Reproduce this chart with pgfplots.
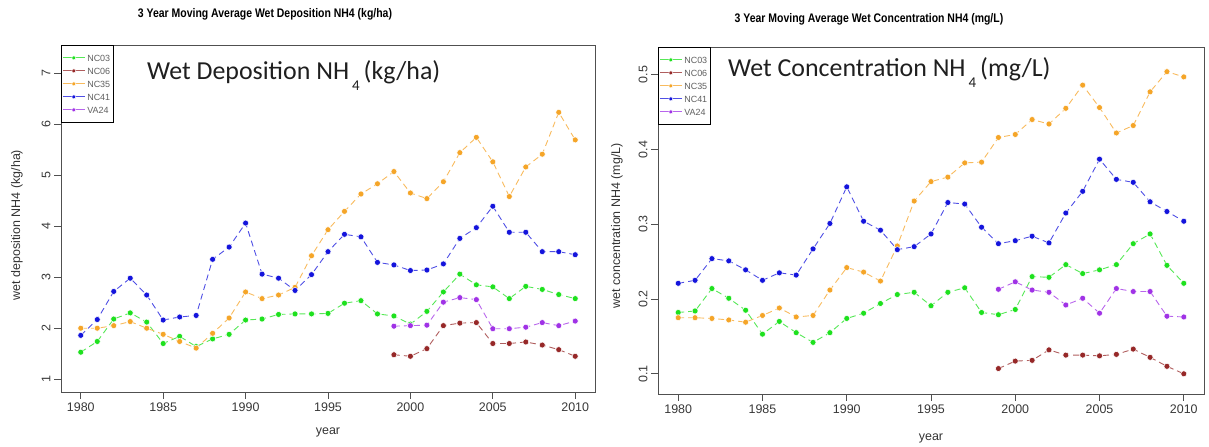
\documentclass[border=0pt]{standalone}
\usepackage{pgfplots}
\pgfplotsset{compat=1.18}
\usepackage{fontspec}
\setmainfont{Liberation Sans}
\newfontfamily\carlito{Carlito}
\definecolor{cGreen}{RGB}{30,225,30}
\definecolor{cBrown}{RGB}{150,40,40}
\definecolor{cOrange}{RGB}{245,165,40}
\definecolor{cBlue}{RGB}{20,20,220}
\definecolor{cPurple}{RGB}{160,50,230}
\definecolor{axgray}{RGB}{80,80,80}
\pgfplotsset{
  ser/.style={color=#1!75, line width=0.9bp, dash pattern=on 6bp off 4bp,
    mark=*, mark size=3bp, mark options={solid, fill=#1, draw=white, line width=0.5bp}},
  base/.style={
    scale only axis, height=347bp,
    xmin=1978.8, xmax=2011.2,
    xtick={1980,1985,1990,1995,2000,2005,2010},
    tick pos=left, tick align=outside, major tick length=7bp,
    axis line style={axgray, line width=0.9bp},
    tick style={axgray, line width=0.8bp},
    /pgf/number format/assume math mode=true,
    x tick label style={/pgf/number format/1000 sep={}},
    tick label style={font=\fontsize{12.5}{12.5}\selectfont, text=black!78},
    yticklabel style={rotate=90, anchor=south},
    legend cell align=left,
    legend image code/.code={\draw[mark repeat=2,mark phase=2,#1,solid] plot coordinates {(0bp,0bp) (11bp,0bp) (22bp,0bp)};},
    legend image post style={mark size=2bp},
    legend style={at={(0,1)}, anchor=north west, draw=black, line width=0.8bp, fill=white,
      inner xsep=1bp, inner ysep=6bp, row sep=0bp,
      font=\fontsize{9}{9}\selectfont\color{gray!75!black},
      nodes={text height=7bp, text depth=0bp, inner ysep=3bp, inner xsep=2bp}},
  }
}
\begin{document}
\begin{tikzpicture}[x=1bp,y=1bp]
\useasboundingbox (0,0) rectangle (1209,447);
% ---------------- left panel
\begin{axis}[base, at={(61bp,55bp)}, anchor=south west, width=534bp,
  ymin=0.75, ymax=7.55, ytick={1,2,3,4,5,6,7}]
\addplot[ser=cGreen] coordinates {(1980,1.53)(1981,1.74)(1982,2.18)(1983,2.30)(1984,2.12)(1985,1.70)(1986,1.84)(1987,1.64)(1988,1.79)(1989,1.88)(1990,2.16)(1991,2.18)(1992,2.27)(1993,2.28)(1994,2.28)(1995,2.29)(1996,2.49)(1997,2.54)(1998,2.28)(1999,2.24)(2000,2.08)(2001,2.33)(2002,2.71)(2003,3.06)(2004,2.85)(2005,2.81)(2006,2.58)(2007,2.82)(2008,2.76)(2009,2.66)(2010,2.58)};
\addlegendentry{NC03}
\addplot[ser=cBrown] coordinates {(1999,1.48)(2000,1.45)(2001,1.60)(2002,2.05)(2003,2.10)(2004,2.11)(2005,1.70)(2006,1.70)(2007,1.73)(2008,1.67)(2009,1.58)(2010,1.45)};
\addlegendentry{NC06}
\addplot[ser=cOrange] coordinates {(1980,2.00)(1981,2.00)(1982,2.05)(1983,2.13)(1984,2.00)(1985,1.88)(1986,1.74)(1987,1.61)(1988,1.90)(1989,2.20)(1990,2.71)(1991,2.58)(1992,2.65)(1993,2.80)(1994,3.42)(1995,3.93)(1996,4.29)(1997,4.63)(1998,4.83)(1999,5.07)(2000,4.65)(2001,4.54)(2002,4.87)(2003,5.44)(2004,5.74)(2005,5.26)(2006,4.58)(2007,5.16)(2008,5.41)(2009,6.23)(2010,5.69)};
\addlegendentry{NC35}
\addplot[ser=cBlue] coordinates {(1980,1.86)(1981,2.17)(1982,2.72)(1983,2.98)(1984,2.65)(1985,2.16)(1986,2.22)(1987,2.25)(1988,3.35)(1989,3.59)(1990,4.06)(1991,3.06)(1992,2.98)(1993,2.74)(1994,3.05)(1995,3.50)(1996,3.84)(1997,3.79)(1998,3.29)(1999,3.24)(2000,3.13)(2001,3.14)(2002,3.26)(2003,3.76)(2004,3.97)(2005,4.39)(2006,3.88)(2007,3.88)(2008,3.50)(2009,3.50)(2010,3.44)};
\addlegendentry{NC41}
\addplot[ser=cPurple] coordinates {(1999,2.04)(2000,2.05)(2001,2.06)(2002,2.51)(2003,2.60)(2004,2.56)(2005,1.99)(2006,1.99)(2007,2.02)(2008,2.11)(2009,2.05)(2010,2.14)};
\addlegendentry{VA24}
\end{axis}
% ---------------- right panel
\begin{axis}[base, at={(658bp,53bp)}, anchor=south west, width=546bp,
  ymin=0.073, ymax=0.537, ytick={0.1,0.2,0.3,0.4,0.5},
  yticklabel style={/pgf/number format/fixed, /pgf/number format/precision=1}]
\addplot[ser=cGreen] coordinates {(1980,0.182)(1981,0.184)(1982,0.214)(1983,0.201)(1984,0.185)(1985,0.153)(1986,0.170)(1987,0.155)(1988,0.142)(1989,0.155)(1990,0.174)(1991,0.181)(1992,0.194)(1993,0.206)(1994,0.209)(1995,0.191)(1996,0.209)(1997,0.215)(1998,0.182)(1999,0.179)(2000,0.186)(2001,0.230)(2002,0.229)(2003,0.246)(2004,0.234)(2005,0.239)(2006,0.246)(2007,0.274)(2008,0.287)(2009,0.245)(2010,0.221)};
\addlegendentry{NC03}
\addplot[ser=cBrown] coordinates {(1999,0.107)(2000,0.117)(2001,0.118)(2002,0.132)(2003,0.125)(2004,0.125)(2005,0.124)(2006,0.126)(2007,0.133)(2008,0.122)(2009,0.110)(2010,0.100)};
\addlegendentry{NC06}
\addplot[ser=cOrange] coordinates {(1980,0.175)(1981,0.175)(1982,0.174)(1983,0.172)(1984,0.169)(1985,0.178)(1986,0.188)(1987,0.176)(1988,0.178)(1989,0.212)(1990,0.242)(1991,0.236)(1992,0.224)(1993,0.271)(1994,0.331)(1995,0.357)(1996,0.363)(1997,0.382)(1998,0.383)(1999,0.416)(2000,0.420)(2001,0.440)(2002,0.434)(2003,0.455)(2004,0.486)(2005,0.456)(2006,0.422)(2007,0.432)(2008,0.477)(2009,0.504)(2010,0.497)};
\addlegendentry{NC35}
\addplot[ser=cBlue] coordinates {(1980,0.221)(1981,0.225)(1982,0.254)(1983,0.251)(1984,0.239)(1985,0.225)(1986,0.235)(1987,0.232)(1988,0.267)(1989,0.301)(1990,0.350)(1991,0.304)(1992,0.292)(1993,0.266)(1994,0.270)(1995,0.287)(1996,0.329)(1997,0.327)(1998,0.296)(1999,0.274)(2000,0.278)(2001,0.284)(2002,0.275)(2003,0.315)(2004,0.344)(2005,0.387)(2006,0.360)(2007,0.356)(2008,0.330)(2009,0.317)(2010,0.304)};
\addlegendentry{NC41}
\addplot[ser=cPurple] coordinates {(1999,0.213)(2000,0.223)(2001,0.212)(2002,0.209)(2003,0.192)(2004,0.201)(2005,0.181)(2006,0.214)(2007,0.210)(2008,0.210)(2009,0.177)(2010,0.176)};
\addlegendentry{VA24}
\end{axis}
% ---------------- texts
\node[font=\bfseries\fontsize{12.5}{13}\selectfont] at (265,433) {\scalebox{0.84}[1]{3 Year Moving Average Wet Deposition NH4 (kg/ha)}};
\node[font=\bfseries\fontsize{12.5}{13}\selectfont] at (869,428) {\scalebox{0.84}[1]{3 Year Moving Average Wet Concentration NH4 (mg/L)}};
\node[rotate=90, font=\fontsize{12.5}{13}\selectfont, text=black!80] at (17,222) {wet deposition NH4 (kg/ha)};
\node[rotate=90, font=\fontsize{12.5}{13}\selectfont, text=black!80] at (617,221) {wet concentration NH4 (mg/L)};
\node[font=\fontsize{12.5}{13}\selectfont, text=black!80] at (328,15) {year};
\node[font=\fontsize{12.5}{13}\selectfont, text=black!80] at (931,9) {year};
\node[anchor=base west, inner sep=0pt, text=black!88, font=\carlito\fontsize{26}{26}\selectfont] at (147,367.7)
  {Wet Deposition NH\kern3bp\raisebox{-11bp}{\fontsize{15}{15}\selectfont 4}\kern4bp(kg/ha)};
\node[anchor=base west, inner sep=0pt, text=black!88, font=\carlito\fontsize{26}{26}\selectfont] at (728,370.3)
  {Wet Concentration NH\kern3bp\raisebox{-11bp}{\fontsize{15}{15}\selectfont 4}\kern4bp(mg/L)};
\end{tikzpicture}
\end{document}
